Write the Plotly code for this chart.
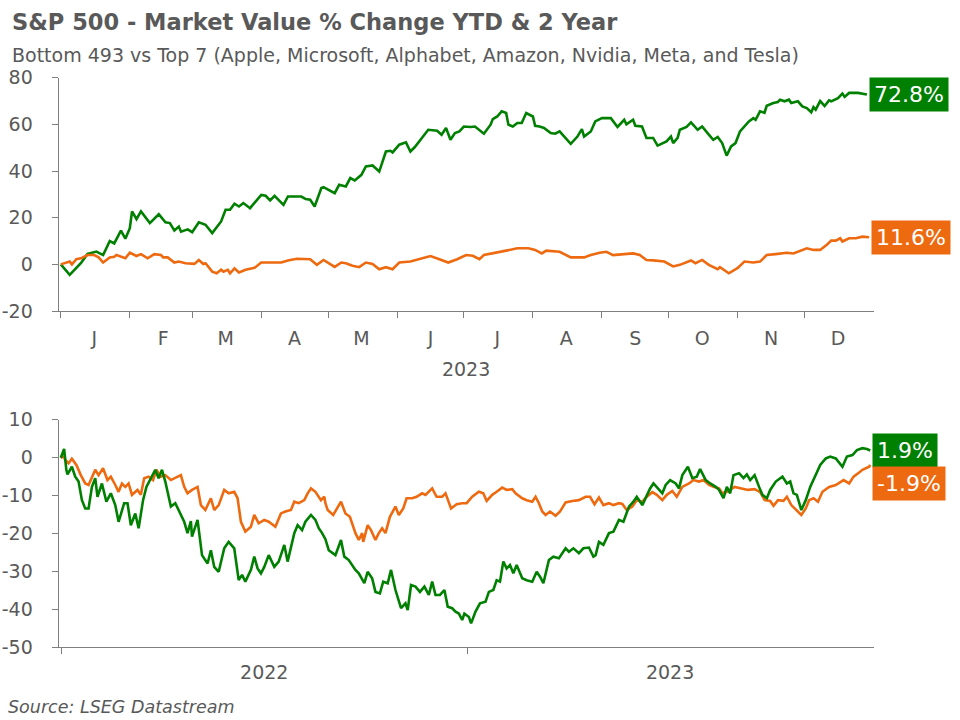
import plotly.graph_objects as go

# --- YTD 2023 (top panel) ---
ytd_top7_dates = [
    "2023-01-01", "2023-01-05", "2023-01-10", "2023-01-13", "2023-01-17", "2023-01-20", "2023-01-23",
    "2023-01-25", "2023-01-28", "2023-01-30", "2023-02-01", "2023-02-02", "2023-02-04", "2023-02-06",
    "2023-02-10", "2023-02-12", "2023-02-14", "2023-02-17", "2023-02-19", "2023-02-21", "2023-02-23",
    "2023-02-24", "2023-02-27", "2023-03-01", "2023-03-04", "2023-03-07", "2023-03-10", "2023-03-14",
    "2023-03-16", "2023-03-18", "2023-03-20", "2023-03-22", "2023-03-24", "2023-03-27", "2023-04-01",
    "2023-04-03", "2023-04-05", "2023-04-07", "2023-04-11", "2023-04-13", "2023-04-19", "2023-04-21",
    "2023-04-23", "2023-04-25", "2023-04-26", "2023-04-28", "2023-04-29", "2023-05-04", "2023-05-06",
    "2023-05-09", "2023-05-11", "2023-05-13", "2023-05-16", "2023-05-18", "2023-05-21", "2023-05-24",
    "2023-05-27", "2023-05-29", "2023-05-30", "2023-06-02", "2023-06-05", "2023-06-07", "2023-06-09",
    "2023-06-12", "2023-06-15", "2023-06-19", "2023-06-21", "2023-06-23", "2023-06-25", "2023-06-27",
    "2023-06-29", "2023-07-01", "2023-07-04", "2023-07-06", "2023-07-08", "2023-07-10", "2023-07-13",
    "2023-07-14", "2023-07-16", "2023-07-18", "2023-07-20", "2023-07-21", "2023-07-23", "2023-07-25",
    "2023-07-27", "2023-07-29", "2023-08-01", "2023-08-02", "2023-08-04", "2023-08-06", "2023-08-09",
    "2023-08-11", "2023-08-13", "2023-08-18", "2023-08-21", "2023-08-23", "2023-08-24", "2023-08-27",
    "2023-08-29", "2023-09-01", "2023-09-03", "2023-09-05", "2023-09-08", "2023-09-09", "2023-09-11",
    "2023-09-12", "2023-09-15", "2023-09-16", "2023-09-19", "2023-09-21", "2023-09-24", "2023-09-26",
    "2023-09-28", "2023-09-30", "2023-10-02", "2023-10-03", "2023-10-05", "2023-10-06", "2023-10-09",
    "2023-10-11", "2023-10-14", "2023-10-16", "2023-10-19", "2023-10-21", "2023-10-23", "2023-10-25",
    "2023-10-27", "2023-10-29", "2023-10-31", "2023-11-02", "2023-11-06", "2023-11-08", "2023-11-09",
    "2023-11-11", "2023-11-13", "2023-11-14", "2023-11-17", "2023-11-19", "2023-11-20", "2023-11-22",
    "2023-11-24", "2023-11-25", "2023-11-28", "2023-11-30", "2023-12-02", "2023-12-04", "2023-12-05",
    "2023-12-06", "2023-12-08", "2023-12-10", "2023-12-12", "2023-12-13", "2023-12-16", "2023-12-18",
    "2023-12-19", "2023-12-21", "2023-12-25", "2023-12-29",
]
ytd_top7 = [
    0, -4.5, 0.5, 4.5, 5.5, 4, 10,
    9, 14.5, 11, 15.5, 22.7, 19.4, 22.7,
    17.7, 19.8, 21.5, 18, 17.7, 14.5, 16.2,
    14, 15, 13.8, 18, 17, 13.4, 18.4,
    23.4, 23.4, 26, 24.8, 26.3, 24.1, 29.8,
    29.4, 27.4, 29.4, 25.5, 29.1, 29.1, 28,
    27.7, 24.8, 27.7, 32.7, 33.1, 30.5, 34.1,
    33.4, 37, 36, 38.4, 42, 42.4, 39.8,
    48.4, 48.7, 48, 51.3, 52.3, 48.4, 50.3,
    54.2, 57.7, 57.3, 55.6, 58.5, 53.4, 56.3,
    57, 59.1, 58.9, 59.1, 57.7, 56, 59.9,
    62.3, 63.4, 65.6, 64.9, 59.9, 59.1, 60.6,
    60.6, 64.9, 63.4, 59.4, 59.1, 58.5, 56.3,
    56, 57, 51.7, 54.8, 58, 54.8, 57,
    61.3, 62.7, 62.7, 62.7, 58.9, 60, 62,
    60, 62, 59.4, 59.1, 54.2, 54.2, 50.9,
    51.7, 52.7, 54.8, 52, 54.2, 57.7, 58.9,
    60.9, 57.7, 59.1, 55.6, 53.4, 54.6, 52,
    46.6, 50.6, 52, 57, 61.3, 62.7, 62,
    65.6, 65, 68, 69.2, 69.6, 70.6, 69.9,
    70.6, 69.2, 69.9, 67.7, 67, 65.2, 67.4,
    66.3, 70, 67.9, 70.3, 69.9, 71.3, 73.2,
    71.8, 73.5, 73.5, 72.8,
]

ytd_bottom493_dates = [
    "2023-01-01", "2023-01-03", "2023-01-05", "2023-01-06", "2023-01-08", "2023-01-10", "2023-01-13",
    "2023-01-16", "2023-01-18", "2023-01-20", "2023-01-23", "2023-01-25", "2023-01-26", "2023-01-30",
    "2023-02-01", "2023-02-04", "2023-02-06", "2023-02-09", "2023-02-12", "2023-02-15", "2023-02-16",
    "2023-02-18", "2023-02-21", "2023-02-23", "2023-02-26", "2023-03-02", "2023-03-04", "2023-03-06",
    "2023-03-07", "2023-03-10", "2023-03-12", "2023-03-14", "2023-03-15", "2023-03-17", "2023-03-18",
    "2023-03-20", "2023-03-22", "2023-03-25", "2023-03-29", "2023-04-01", "2023-04-07", "2023-04-10",
    "2023-04-13", "2023-04-17", "2023-04-23", "2023-04-26", "2023-04-29", "2023-05-04", "2023-05-07",
    "2023-05-09", "2023-05-12", "2023-05-15", "2023-05-18", "2023-05-21", "2023-05-24", "2023-05-27",
    "2023-05-30", "2023-06-02", "2023-06-07", "2023-06-11", "2023-06-16", "2023-06-20", "2023-06-24",
    "2023-06-28", "2023-07-02", "2023-07-05", "2023-07-08", "2023-07-10", "2023-07-16", "2023-07-20",
    "2023-07-25", "2023-07-30", "2023-08-02", "2023-08-05", "2023-08-07", "2023-08-13", "2023-08-18",
    "2023-08-24", "2023-08-27", "2023-08-31", "2023-09-03", "2023-09-06", "2023-09-11", "2023-09-15",
    "2023-09-18", "2023-09-21", "2023-09-24", "2023-09-29", "2023-10-03", "2023-10-06", "2023-10-11",
    "2023-10-13", "2023-10-16", "2023-10-19", "2023-10-23", "2023-10-24", "2023-10-28", "2023-11-01",
    "2023-11-04", "2023-11-08", "2023-11-11", "2023-11-14", "2023-11-18", "2023-11-23", "2023-11-26",
    "2023-11-28", "2023-12-02", "2023-12-05", "2023-12-08", "2023-12-11", "2023-12-13", "2023-12-15",
    "2023-12-17", "2023-12-18", "2023-12-21", "2023-12-24", "2023-12-27", "2023-12-30",
]
ytd_bottom493 = [
    0, 0.7, 1.2, 0, 2.2, 2.6, 4,
    4, 3, 0.8, 3, 3.3, 4, 2.6,
    5, 3.6, 4.4, 2.6, 4.4, 4, 3,
    3, 0.8, 1.2, 0.5, 0.2, 1.9, 0.2,
    0.5, -3.1, -3.8, -2.3, -3.1, -2.3, -3.8,
    -1.7, -3.5, -2.3, -1.5, 0.8, 0.8, 0.8,
    1.7, 2.4, 2.2, -0.2, 1.9, -1.1, 0.8,
    0.5, -0.6, -1.2, 0.8, 0.2, -2.1, -1.2,
    -2.1, 0.8, 1.2, 2.2, 3.6, 2.2, 0.8,
    2.2, 4, 3.7, 2.2, 4, 5, 5.9,
    6.9, 6.9, 6.2, 4.7, 5.9, 5.4, 3,
    3, 4, 5, 5.4, 4, 4.4, 4.7,
    4, 1.9, 1.7, 1.2, -0.9, -0.2, 1.7,
    0.5, 1.9, -0.2, -2.1, -1.2, -3.8, -1.5,
    1.2, 0.8, 1.2, 4, 4.4, 5, 4.7,
    5.4, 6.9, 6.2, 6.2, 8.4, 10.2, 10.2,
    11.2, 9.8, 11.2, 11.2, 11.9, 11.6,
]

# --- 2 year 2022-2023 (bottom panel) ---
two_yr_top7_dates = [
    "2021-12-31", "2022-01-03", "2022-01-05", "2022-01-06", "2022-01-10", "2022-01-13", "2022-01-16",
    "2022-01-19", "2022-01-22", "2022-01-25", "2022-01-28", "2022-01-31", "2022-02-02", "2022-02-06",
    "2022-02-10", "2022-02-14", "2022-02-18", "2022-02-21", "2022-02-26", "2022-03-01", "2022-03-04",
    "2022-03-08", "2022-03-11", "2022-03-15", "2022-03-18", "2022-03-21", "2022-03-26", "2022-03-29",
    "2022-04-01", "2022-04-04", "2022-04-09", "2022-04-13", "2022-04-21", "2022-04-24", "2022-04-27",
    "2022-04-28", "2022-05-03", "2022-05-07", "2022-05-12", "2022-05-15", "2022-05-18", "2022-05-22",
    "2022-05-27", "2022-05-31", "2022-06-05", "2022-06-09", "2022-06-12", "2022-06-15", "2022-06-20",
    "2022-06-23", "2022-06-26", "2022-06-29", "2022-07-02", "2022-07-06", "2022-07-11", "2022-07-15",
    "2022-07-20", "2022-07-23", "2022-07-26", "2022-07-29", "2022-08-01", "2022-08-05", "2022-08-08",
    "2022-08-13", "2022-08-17", "2022-08-20", "2022-08-23", "2022-08-26", "2022-08-29", "2022-09-04",
    "2022-09-09", "2022-09-12", "2022-09-16", "2022-09-22", "2022-09-25", "2022-09-30", "2022-10-03",
    "2022-10-07", "2022-10-10", "2022-10-14", "2022-10-17", "2022-10-21", "2022-10-24", "2022-10-28",
    "2022-11-02", "2022-11-06", "2022-11-08", "2022-11-11", "2022-11-15", "2022-11-19", "2022-11-23",
    "2022-11-27", "2022-11-30", "2022-12-03", "2022-12-07", "2022-12-11", "2022-12-14", "2022-12-18",
    "2022-12-21", "2022-12-24", "2022-12-27", "2022-12-29", "2023-01-02", "2023-01-04", "2023-01-08",
    "2023-01-12", "2023-01-17", "2023-01-20", "2023-01-24", "2023-01-27", "2023-01-30", "2023-02-02",
    "2023-02-05", "2023-02-08", "2023-02-11", "2023-02-14", "2023-02-19", "2023-02-23", "2023-02-28",
    "2023-03-04", "2023-03-07", "2023-03-10", "2023-03-15", "2023-03-19", "2023-03-24", "2023-03-30",
    "2023-04-02", "2023-04-06", "2023-04-11", "2023-04-15", "2023-04-20", "2023-04-24", "2023-04-26",
    "2023-04-29", "2023-05-03", "2023-05-08", "2023-05-12", "2023-05-17", "2023-05-21", "2023-05-26",
    "2023-05-30", "2023-06-02", "2023-06-07", "2023-06-10", "2023-06-14", "2023-06-17", "2023-06-20",
    "2023-06-25", "2023-06-28", "2023-07-02", "2023-07-07", "2023-07-10", "2023-07-13", "2023-07-18",
    "2023-07-22", "2023-07-26", "2023-07-29", "2023-08-03", "2023-08-07", "2023-08-12", "2023-08-15",
    "2023-08-19", "2023-08-22", "2023-08-25", "2023-08-28", "2023-09-02", "2023-09-06", "2023-09-09",
    "2023-09-12", "2023-09-16", "2023-09-20", "2023-09-23", "2023-09-27", "2023-09-30", "2023-10-05",
    "2023-10-11", "2023-10-15", "2023-10-18", "2023-10-21", "2023-10-24", "2023-10-28", "2023-11-01",
    "2023-11-05", "2023-11-10", "2023-11-14", "2023-11-19", "2023-11-23", "2023-11-28", "2023-12-04",
    "2023-12-08", "2023-12-13", "2023-12-17", "2023-12-22", "2023-12-26", "2023-12-29",
]
two_yr_top7 = [
    0, 2.3, -3.2, -4.4, -2.4, -5, -6.3,
    -11.2, -13.4, -13.4, -7.7, -5.4, -10.3, -6.8,
    -11.6, -9.4, -12.5, -16.9, -12, -12, -17.8,
    -14.7, -18.6, -11.2, -7.7, -5.9, -3.2, -5.4,
    -3.2, -6.3, -12.9, -12, -16.9, -19.9, -16.7,
    -20.8, -16.4, -25.7, -27.9, -24.4, -28.8, -30.1,
    -23.9, -22.2, -23.9, -32.3, -30.9, -32.7, -29.6,
    -26.1, -29.2, -30.5, -28.8, -25.7, -28.8, -27.4,
    -23, -27.4, -23.5, -19.9, -17.8, -19.1, -16.9,
    -15.1, -16.4, -18.6, -19.9, -21.5, -24.4, -25.7,
    -21.7, -26.1, -27, -29.6, -30.5, -33.1, -30.1,
    -31.8, -35.4, -35.8, -32.7, -33.1, -29.6, -34.9,
    -39.7, -38.4, -40.2, -33.6, -34, -35.4, -34,
    -36.2, -32.7, -36.2, -36.2, -34.9, -39.3, -39.7,
    -40.6, -41.1, -42.8, -41.1, -42, -43.7, -40.6,
    -38.4, -38, -35.4, -34.9, -32.3, -32.7, -27.4,
    -29.2, -28.3, -30.5, -28.3, -31.8, -32.3, -32.7,
    -30.1, -31.4, -33.1, -27, -26.1, -26.5, -23.9,
    -24.8, -23.9, -25.2, -23.9, -23.7, -26.1, -25.7,
    -22.2, -23, -19.9, -19.5, -16.4, -16.9, -12.9,
    -11.6, -10.3, -12.5, -10.7, -8.1, -6.8, -7.7,
    -9.4, -7.2, -5.9, -6.8, -8.1, -4.6, -2.4,
    -5.4, -5, -3, -5.9, -6.8, -7.7, -8.5,
    -10.7, -7.7, -9.4, -4.6, -4.1, -5.4, -4.4,
    -5.9, -4.6, -7.7, -9.8, -10.7, -8.5, -6.3,
    -5, -6.8, -6.3, -9.4, -9.8, -13.8, -11.2,
    -7.7, -4.6, -1.9, -0.2, 0.3, -0.2, -2.4,
    0.3, 0.7, 2, 2.5, 2.3, 1.9,
]

two_yr_bottom493_dates = [
    "2021-12-31", "2022-01-03", "2022-01-04", "2022-01-07", "2022-01-10", "2022-01-14", "2022-01-18",
    "2022-01-22", "2022-01-25", "2022-01-28", "2022-01-31", "2022-02-03", "2022-02-07", "2022-02-11",
    "2022-02-14", "2022-02-18", "2022-02-21", "2022-02-24", "2022-02-27", "2022-03-02", "2022-03-05",
    "2022-03-10", "2022-03-13", "2022-03-16", "2022-03-20", "2022-03-24", "2022-03-27", "2022-03-31",
    "2022-04-04", "2022-04-09", "2022-04-13", "2022-04-18", "2022-04-21", "2022-04-24", "2022-04-28",
    "2022-05-03", "2022-05-06", "2022-05-10", "2022-05-15", "2022-05-18", "2022-05-22", "2022-05-27",
    "2022-05-31", "2022-06-05", "2022-06-08", "2022-06-11", "2022-06-15", "2022-06-20", "2022-06-23",
    "2022-06-27", "2022-07-02", "2022-07-06", "2022-07-12", "2022-07-17", "2022-07-21", "2022-07-26",
    "2022-07-29", "2022-08-02", "2022-08-07", "2022-08-10", "2022-08-13", "2022-08-17", "2022-08-22",
    "2022-08-25", "2022-08-26", "2022-08-28", "2022-09-02", "2022-09-09", "2022-09-13", "2022-09-17",
    "2022-09-22", "2022-09-25", "2022-09-28", "2022-09-29", "2022-10-03", "2022-10-06", "2022-10-10",
    "2022-10-13", "2022-10-16", "2022-10-19", "2022-10-23", "2022-10-28", "2022-10-31", "2022-11-04",
    "2022-11-07", "2022-11-12", "2022-11-16", "2022-11-21", "2022-11-24", "2022-11-27", "2022-11-30",
    "2022-12-04", "2022-12-09", "2022-12-12", "2022-12-17", "2022-12-22", "2022-12-27", "2022-12-31",
    "2023-01-05", "2023-01-11", "2023-01-15", "2023-01-18", "2023-01-23", "2023-01-27", "2023-02-01",
    "2023-02-05", "2023-02-10", "2023-02-13", "2023-02-19", "2023-02-23", "2023-02-28", "2023-03-03",
    "2023-03-06", "2023-03-09", "2023-03-12", "2023-03-16", "2023-03-21", "2023-03-25", "2023-03-30",
    "2023-04-05", "2023-04-11", "2023-04-17", "2023-04-21", "2023-04-25", "2023-04-29", "2023-05-03",
    "2023-05-08", "2023-05-12", "2023-05-17", "2023-05-20", "2023-05-24", "2023-05-29", "2023-06-02",
    "2023-06-07", "2023-06-11", "2023-06-16", "2023-06-20", "2023-06-25", "2023-06-29", "2023-07-04",
    "2023-07-08", "2023-07-13", "2023-07-19", "2023-07-23", "2023-07-28", "2023-08-01", "2023-08-06",
    "2023-08-10", "2023-08-15", "2023-08-18", "2023-08-22", "2023-08-29", "2023-09-04", "2023-09-10",
    "2023-09-16", "2023-09-21", "2023-09-25", "2023-09-30", "2023-10-03", "2023-10-07", "2023-10-12",
    "2023-10-15", "2023-10-19", "2023-10-24", "2023-10-28", "2023-11-01", "2023-11-04", "2023-11-08",
    "2023-11-12", "2023-11-16", "2023-11-22", "2023-11-28", "2023-12-05", "2023-12-10", "2023-12-14",
    "2023-12-19", "2023-12-22", "2023-12-28", "2023-12-29",
]
two_yr_bottom493 = [
    0, 0.3, -0.6, -1.5, -0.3, -1.9, -4.6,
    -6.8, -7.2, -5, -3.2, -4.6, -2.8, -5.9,
    -5, -7.2, -9, -6.8, -7.7, -6.8, -9.8,
    -8.5, -9.8, -5.4, -5, -5.9, -3.2, -5,
    -4.6, -5.9, -5.4, -4.6, -7.7, -9.4, -8.5,
    -7.7, -12.5, -13.8, -10.7, -13.8, -12.5, -8.5,
    -9.4, -9, -10.7, -16.9, -19.5, -18.2, -15.1,
    -17.3, -16.4, -16.9, -18.2, -14.7, -14.2, -13.8,
    -11.6, -12, -11.2, -9.4, -8.1, -9, -11.2,
    -10.3, -12, -13.8, -15.1, -11.6, -14.7, -15.6,
    -19.9, -21.7, -19.9, -22.2, -17.8, -19.1, -21.7,
    -19.9, -18.6, -19.9, -15.6, -12.9, -15.1, -13.4,
    -10.7, -10.7, -10.3, -9.4, -9.8, -9, -8.1,
    -10.3, -10.3, -9.4, -13.4, -12.3, -12, -12,
    -10.3, -9, -9.4, -11.4, -9.8, -9, -7.9,
    -8.5, -8.3, -9.4, -10.7, -11.2, -11.6, -10.3,
    -12, -14.2, -15.1, -14.2, -15.3, -14.2, -11.8,
    -11.4, -11.2, -10.3, -10.3, -12.3, -10.5, -12.5,
    -12, -12.5, -12, -12.2, -13.8, -12.9, -11.2,
    -11.6, -10.3, -9.1, -9.8, -11.2, -9.8, -8.8,
    -10.3, -7.7, -6.8, -5.9, -6.3, -5.9, -7.2,
    -7.7, -8.1, -9.4, -9, -7.7, -8.1, -8.5,
    -8.3, -9.1, -11.2, -11.4, -12.7, -11.2, -11.4,
    -10.3, -12.5, -13.8, -15.1, -13.4, -11.2, -10.7,
    -11.6, -9, -7.7, -7.2, -5.9, -6.8, -5,
    -3.9, -3.2, -2.4, -1.9,
]

month_letters = ["J", "F", "M", "A", "M", "J", "J", "A", "S", "O", "N", "D"]
month_mid = ["2023-%02d-16" % m for m in range(1, 13)]
month_start = ["2023-%02d-01" % m for m in range(1, 13)]
year_labels = ["2022", "2023"]
year_mid = ["2022-07-02", "2023-07-02"]
year_start = ["2022-01-01", "2023-01-01"]
ytd_ticks = [-20, 0, 20, 40, 60, 80]
two_yr_ticks = [-50, -40, -30, -20, -10, 0, 10]

GREEN = "#008000"
ORANGE = "#EE6A10"
GREY_TXT = "#595959"
AXIS = "#7f7f7f"
FONT = "DejaVu Sans, Liberation Sans, Arial, sans-serif"

fig = go.Figure()
fig.add_trace(go.Scatter(x=ytd_top7_dates, y=ytd_top7, mode="lines",
                         line=dict(color=GREEN, width=2.6), xaxis="x", yaxis="y"))
fig.add_trace(go.Scatter(x=ytd_bottom493_dates, y=ytd_bottom493, mode="lines",
                         line=dict(color=ORANGE, width=2.6), xaxis="x", yaxis="y"))
fig.add_trace(go.Scatter(x=two_yr_bottom493_dates, y=two_yr_bottom493, mode="lines",
                         line=dict(color=ORANGE, width=2.6), xaxis="x2", yaxis="y2"))
fig.add_trace(go.Scatter(x=two_yr_top7_dates, y=two_yr_top7, mode="lines",
                         line=dict(color=GREEN, width=2.6), xaxis="x2", yaxis="y2"))

axis_common = dict(showline=True, linecolor=AXIS, linewidth=1, showgrid=False, zeroline=False,
                   automargin=False, tickfont=dict(size=19, color=GREY_TXT, family=FONT))

fig.update_layout(
    width=960, height=720,
    margin=dict(l=0, r=0, t=0, b=0),
    paper_bgcolor="white", plot_bgcolor="white",
    showlegend=False,
    font=dict(family=FONT, color=GREY_TXT),
    xaxis=dict(axis_common, domain=[0.061, 0.910], anchor="y",
               type="date", range=["2022-12-31", "2024-01-01"],
               tickmode="array", tickvals=month_mid, ticktext=month_letters, ticks="",
               ticklabelstandoff=10,
               minor=dict(tickmode="array", tickvals=month_start, ticks="outside",
                          ticklen=6, tickcolor=AXIS),
               title=dict(text="2023", font=dict(size=19, color=GREY_TXT), standoff=14)),
    yaxis=dict(axis_common, domain=[0.568, 0.892], anchor="x",
               range=[-20, 80], tickmode="array", tickvals=ytd_ticks,
               ticktext=[str(v) for v in ytd_ticks],
               ticks="outside", ticklen=6, tickcolor=AXIS, ticklabelstandoff=15),
    xaxis2=dict(axis_common, domain=[0.061, 0.910], anchor="y2",
                type="date", range=["2021-12-29", "2024-01-01"],
                tickmode="array", tickvals=year_mid, ticktext=year_labels, ticks="",
                ticklabelstandoff=8,
                minor=dict(tickmode="array", tickvals=year_start, ticks="outside",
                           ticklen=6, tickcolor=AXIS)),
    yaxis2=dict(axis_common, domain=[0.101, 0.417], anchor="x2",
                range=[-50, 10], tickmode="array", tickvals=two_yr_ticks,
                ticktext=[str(v) for v in two_yr_ticks],
                ticks="outside", ticklen=6, tickcolor=AXIS, ticklabelstandoff=15),
)

# end-of-line value boxes
end_labels = [
    ("x", "y", ytd_top7_dates[-1], ytd_top7[-1], GREEN, 0),
    ("x", "y", ytd_bottom493_dates[-1], ytd_bottom493[-1], ORANGE, 0),
    ("x2", "y2", two_yr_top7_dates[-1], two_yr_top7[-1], GREEN, 0),
    ("x2", "y2", two_yr_bottom493_dates[-1], two_yr_bottom493[-1], ORANGE, -19),
]
for xr, yr, xv, yv, col, shift in end_labels:
    fig.add_annotation(xref=xr, yref=yr, x=xv, y=yv, text="%.1f%%" % yv, showarrow=False,
                       xanchor="left", yanchor="middle", xshift=2, yshift=shift,
                       bgcolor=col, borderpad=4, font=dict(size=22, color="white", family=FONT))

fig.add_annotation(xref="paper", yref="paper", x=0.010, y=0.9694, xanchor="left", yanchor="middle",
                   text="<b>S&P 500 - Market Value % Change YTD & 2 Year</b>", showarrow=False,
                   font=dict(size=22.5, color=GREY_TXT, family=FONT))
fig.add_annotation(xref="paper", yref="paper", x=0.010, y=0.9236, xanchor="left", yanchor="middle",
                   text="Bottom 493 vs Top 7 (Apple, Microsoft, Alphabet, Amazon, Nvidia, Meta, and Tesla)",
                   showarrow=False, font=dict(size=19, color=GREY_TXT, family=FONT))
fig.add_annotation(xref="paper", yref="paper", x=0.006, y=0.018, xanchor="left", yanchor="middle",
                   text="<i>Source: LSEG Datastream</i>", showarrow=False,
                   font=dict(size=17.5, color=GREY_TXT, family=FONT))

# page body has a default 8px margin; drop it so the figure fills the window
fig.write_html("out.html", config={"displayModeBar": False},
               post_script="document.body.style.margin='0';")
